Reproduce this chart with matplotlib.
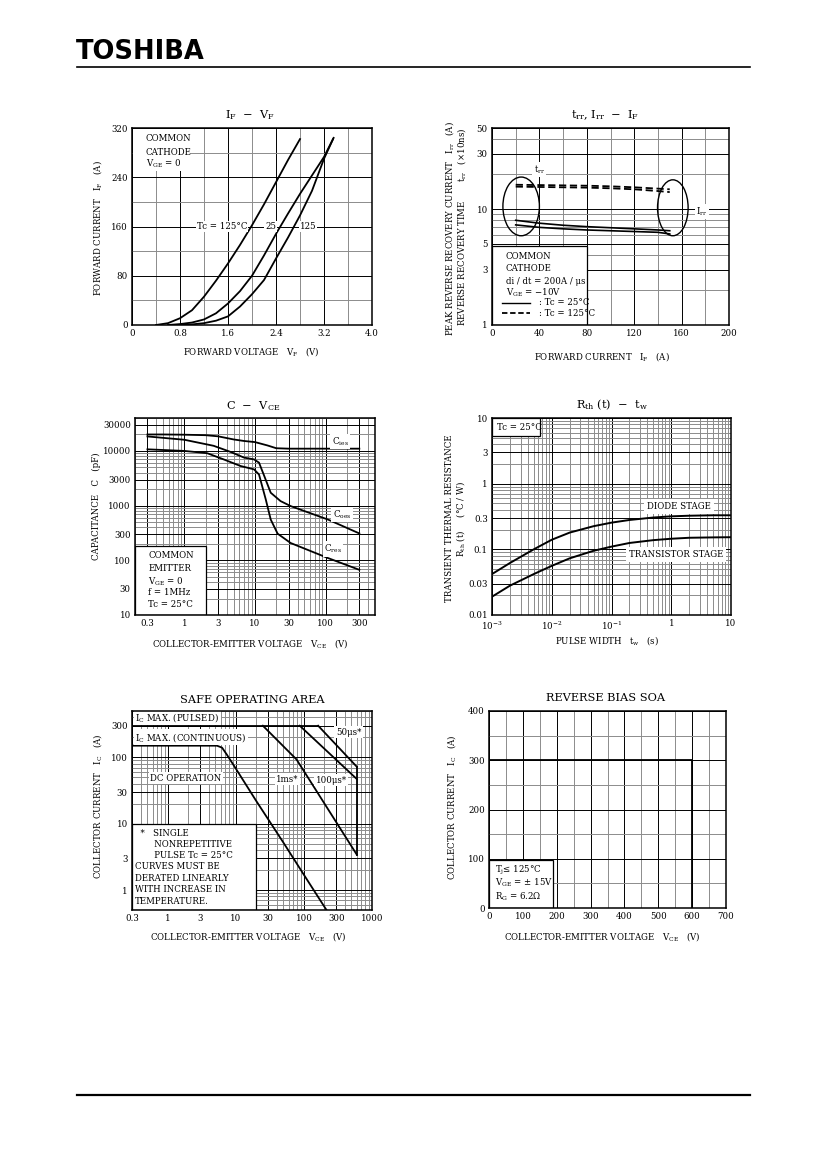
import matplotlib.pyplot as plt
from matplotlib.lines import Line2D
from matplotlib.patches import Ellipse, Rectangle
from matplotlib.ticker import MultipleLocator, NullFormatter

plt.rcParams["font.family"] = ["DejaVu Serif"]
plt.rcParams["mathtext.fontset"] = "dejavuserif"
plt.rcParams["mathtext.default"] = "regular"

# ---- IF - VF
vf_125a = [0.4, 0.6, 0.8, 1.0, 1.2, 1.4, 1.6, 1.8, 2.0, 2.2, 2.4, 2.6, 2.8]
if_125a = [0, 3, 11, 24, 46, 72, 100, 130, 162, 196, 232, 268, 302]
vf_25 = [0.6, 0.8, 1.0, 1.2, 1.4, 1.6, 1.8, 2.0, 2.2, 2.4, 2.6, 2.8, 3.0, 3.2, 3.35]
if_25 = [0, 1.5, 4, 9, 19, 35, 55, 80, 113, 148, 181, 213, 243, 273, 302]
vf_125b = [0.8, 1.0, 1.2, 1.4, 1.6, 1.8, 2.0, 2.2, 2.4, 2.6, 2.8, 3.0, 3.2, 3.36]
if_125b = [0, 1, 3, 7, 14, 30, 50, 73, 108, 142, 178, 218, 270, 304]

# ---- trr, Irr - IF
if_rr = [20, 40, 60, 80, 100, 120, 140, 150]
trr_a = [16.2, 16.1, 16.0, 15.9, 15.7, 15.4, 15.0, 14.8]
trr_b = [15.6, 15.5, 15.4, 15.3, 15.1, 14.8, 14.3, 14.0]
irr_a = [8.0, 7.55, 7.25, 7.05, 6.9, 6.75, 6.6, 6.5]
irr_b = [7.3, 6.95, 6.75, 6.6, 6.5, 6.4, 6.3, 6.1]

# ---- C - VCE
v_ies = [0.3, 0.5, 1, 2, 3, 5, 7, 10, 15, 20, 30, 50, 100, 300]
c_ies = [20000, 20000, 19800, 19400, 18500, 16200, 15200, 14500, 12600, 11200, 11000, 11000, 11000, 11000]
v_oes = [0.3, 1, 2.6, 4.5, 7, 9.7, 11.4, 13.5, 16.7, 23, 32, 108, 300]
c_oes = [18400, 16000, 12400, 9600, 7550, 7000, 6100, 3500, 1720, 1210, 980, 556, 310]
v_res = [0.3, 1, 2.1, 3.6, 6.25, 9.7, 11.4, 14.2, 16.7, 20.9, 32, 108, 300]
c_res = [10700, 10000, 9100, 7000, 5300, 4600, 3700, 1300, 556, 307, 207, 110, 67]

# ---- Rth(t) - tw
tw = [1e-3, 2e-3, 5e-3, 1e-2, 2e-2, 5e-2, 0.1, 0.2, 0.5, 1, 2, 5, 10]
rth_diode = [0.042, 0.062, 0.10, 0.14, 0.18, 0.225, 0.255, 0.28, 0.305, 0.318, 0.325, 0.33, 0.33]
rth_tr = [0.019, 0.028, 0.042, 0.056, 0.073, 0.095, 0.11, 0.125, 0.138, 0.145, 0.15, 0.152, 0.153]

# ---- SOA
soa_pulse_v = [0.3, 162]
soa_pulse_i = [300, 300]
soa_dc_v = [0.3, 5.3, 6.3, 7.4, 10, 20, 50, 100, 200, 215]
soa_dc_i = [150, 150, 140, 110, 68, 22, 5.2, 1.7, 0.56, 0.5]
soa_1ms_v = [25, 78, 600]
soa_1ms_i = [300, 93, 3.4]
soa_100us_v = [87, 600]
soa_100us_i = [300, 47]
soa_50us_v = [162, 600]
soa_50us_i = [300, 72]
soa_edge_v = [600, 600]
soa_edge_i = [3.4, 72]

# ---- reverse bias SOA
rb_v = [0, 600, 600]
rb_i = [300, 300, 0]

W, H = 826, 1169
FS = 6.2


def box(fig, l, t, r, b):
    return fig.add_axes([l / W, 1 - b / H, (r - l) / W, (b - t) / H])


def style(ax):
    ax.tick_params(which="both", length=0, labelsize=FS, pad=3)
    for s in ax.spines.values():
        s.set_linewidth(1.1)
        s.set_zorder(6)
    ax.grid(which="major", color="black", lw=0.7)
    ax.grid(which="minor", color="0.55", lw=0.7)
    ax.set_axisbelow(True)


def labels(ax, title, tx, ty, xlabel, xx, xy, ylabel, yx, yy):
    ax.text(tx, ty, title, transform=ax.transAxes, ha="center", va="center", fontsize=8.2)
    ax.text(xx, xy, xlabel, transform=ax.transAxes, ha="center", va="center", fontsize=FS)
    if ylabel:
        ax.text(yx, yy, ylabel, transform=ax.transAxes, ha="center", va="center",
                rotation=90, fontsize=FS)


def panel(ax, x0, y0, x1, y1, x, ys, lines, edge="black"):
    ax.add_patch(Rectangle((x0, y0), x1 - x0, y1 - y0, transform=ax.transAxes,
                           facecolor="white", edgecolor=edge, lw=0.9, zorder=3))
    for y, t in zip(ys, lines):
        ax.text(x, y, t, transform=ax.transAxes, fontsize=FS, va="center", ha="left",
                zorder=4)


def tag(ax, x, y, t, ha="left", pad=1.0):
    ax.text(x, y, t, transform=ax.transAxes, fontsize=FS, ha=ha, va="center", zorder=4,
            bbox=dict(facecolor="white", edgecolor="none", pad=pad))


fig = plt.figure(figsize=(W / 100, H / 100), dpi=100)

# header / footer
fig.text(76 / W, 1 - 52 / H, "TOSHIBA", family="DejaVu Sans", fontweight="black",
         fontsize=18.5, va="center", ha="left")
fig.add_artist(Line2D([77 / W, 750 / W], [1 - 67 / H, 1 - 67 / H], color="black", lw=1.2))
fig.add_artist(Line2D([77 / W, 750 / W], [1 - 1095 / H, 1 - 1095 / H], color="black", lw=1.6))

# IF - VF
ax = box(fig, 132, 128, 372, 325)
for x, y in [(vf_125a, if_125a), (vf_25, if_25), (vf_125b, if_125b)]:
    ax.plot(x, y, color="black", lw=1.3)
ax.set_xlim(0, 4.0)
ax.set_ylim(0, 320)
ax.set_xticks([0, 0.8, 1.6, 2.4, 3.2, 4.0], ["0", "0.8", "1.6", "2.4", "3.2", "4.0"])
ax.set_yticks([0, 80, 160, 240, 320])
ax.xaxis.set_minor_locator(MultipleLocator(0.4))
ax.yaxis.set_minor_locator(MultipleLocator(40))
style(ax)
ax.text(1.5, 160, "Tc = 125°C", fontsize=FS, ha="center", va="center",
        bbox=dict(facecolor="white", edgecolor="none", pad=0.5))
ax.text(2.31, 160, "25", fontsize=FS, ha="center", va="center",
        bbox=dict(facecolor="white", edgecolor="none", pad=0.5))
ax.text(2.94, 160, "125", fontsize=FS, ha="center", va="center",
        bbox=dict(facecolor="white", edgecolor="none", pad=0.5))
panel(ax, 0.005, 0.78, 0.242, 0.995, 0.058, [0.945, 0.878, 0.818],
      ["COMMON", "CATHODE", "$V_{GE}$ = 0"], edge="none")
labels(ax, "$I_F$  −  $V_F$", 0.49, 1.066, "FORWARD VOLTAGE   $V_F$   (V)", 0.495, -0.136,
       "FORWARD CURRENT   $I_F$   (A)", -0.145, 0.49)

# trr, Irr - IF
ax = box(fig, 492, 128, 729, 325)
ax.plot(if_rr, trr_a, color="black", lw=1.3, ls=(0, (4, 2)))
ax.plot(if_rr, trr_b, color="black", lw=1.3, ls=(0, (4, 2)))
ax.plot(if_rr, irr_a, color="black", lw=1.2)
ax.plot(if_rr, irr_b, color="black", lw=1.2)
ax.set_yscale("log")
ax.set_xlim(0, 200)
ax.set_ylim(1, 50)
ax.set_xticks([0, 40, 80, 120, 160, 200])
ax.xaxis.set_minor_locator(MultipleLocator(20))
ax.set_yticks([1, 3, 5, 10, 30, 50], ["1", "3", "5", "10", "30", "50"])
ax.yaxis.set_minor_formatter(NullFormatter())
style(ax)
ax.add_patch(Ellipse((0.123, 0.602), 0.154, 0.298, transform=ax.transAxes,
                     fill=False, lw=1.0, color="black"))
ax.add_patch(Ellipse((0.763, 0.595), 0.129, 0.284, transform=ax.transAxes,
                     fill=False, lw=1.0, color="black"))
tag(ax, 0.2, 0.79, "$t_{rr}$", ha="center")
tag(ax, 0.885, 0.576, "$I_{rr}$", ha="center")
panel(ax, 0, 0, 0.4, 0.403, 0.058, [0.347, 0.288, 0.222, 0.164, 0.114, 0.059],
      ["COMMON", "CATHODE", "di / dt = 200A / μs", "$V_{GE}$ = −10V",
       "            : Tc = 25°C", "            : Tc = 125°C"])
ax.plot([0.044, 0.159], [0.114, 0.114], transform=ax.transAxes, color="black", lw=1.0,
        zorder=5)
ax.plot([0.044, 0.159], [0.059, 0.059], transform=ax.transAxes, color="black", lw=1.3,
        ls=(0, (3, 1.5)), zorder=5)
labels(ax, "$t_{rr}$, $I_{rr}$  −  $I_F$", 0.476, 1.066, "FORWARD CURRENT   $I_F$   (A)",
       0.465, -0.16, None, 0, 0)
ax.text(-0.18, 0.49, "PEAK REVERSE RECOVERY CURRENT   $I_{rr}$   (A)",
        transform=ax.transAxes, rotation=90, ha="center", va="center", fontsize=FS)
ax.text(-0.13, 0.5, "REVERSE RECOVERY TIME       $t_{rr}$   (×10ns)",
        transform=ax.transAxes, rotation=90, ha="center", va="center", fontsize=FS)

# C - VCE
ax = box(fig, 135, 418, 375, 615)
for x, y in [(v_ies, c_ies), (v_oes, c_oes), (v_res, c_res)]:
    ax.plot(x, y, color="black", lw=1.3)
ax.set_xscale("log")
ax.set_yscale("log")
ax.set_xlim(0.2, 500)
ax.set_ylim(10, 40000)
ax.set_xticks([0.3, 1, 3, 10, 30, 100, 300], ["0.3", "1", "3", "10", "30", "100", "300"])
ax.set_yticks([10, 30, 100, 300, 1000, 3000, 10000, 30000],
              ["10", "30", "100", "300", "1000", "3000", "10000", "30000"])
ax.xaxis.set_minor_formatter(NullFormatter())
ax.yaxis.set_minor_formatter(NullFormatter())
style(ax)
tag(ax, 0.855, 0.88, "$C_{ies}$", ha="center")
tag(ax, 0.862, 0.51, "$C_{oes}$", ha="center")
tag(ax, 0.825, 0.335, "$C_{res}$", ha="center")
panel(ax, 0, 0, 0.296, 0.351, 0.056, [0.302, 0.234, 0.169, 0.115, 0.054],
      ["COMMON", "EMITTER", "$V_{GE}$ = 0", "f = 1MHz", "Tc = 25°C"])
labels(ax, "C  −  $V_{CE}$", 0.493, 1.06, "COLLECTOR-EMITTER VOLTAGE   $V_{CE}$   (V)",
       0.479, -0.145, "CAPACITANCE   C   (pF)", -0.16, 0.55)

# Rth(t) - tw
ax = box(fig, 492, 418, 731, 615)
ax.plot(tw, rth_diode, color="black", lw=1.4)
ax.plot(tw, rth_tr, color="black", lw=1.4)
ax.set_xscale("log")
ax.set_yscale("log")
ax.set_xlim(1e-3, 10)
ax.set_ylim(0.01, 10)
ax.set_xticks([1e-3, 1e-2, 1e-1, 1, 10], ["$10^{-3}$", "$10^{-2}$", "$10^{-1}$", "1", "10"])
ax.set_yticks([0.01, 0.03, 0.1, 0.3, 1, 3, 10],
              ["0.01", "0.03", "0.1", "0.3", "1", "3", "10"])
ax.xaxis.set_minor_formatter(NullFormatter())
ax.yaxis.set_minor_formatter(NullFormatter())
style(ax)
tag(ax, 0.783, 0.55, "DIODE STAGE", ha="center", pad=2)
tag(ax, 0.77, 0.307, "TRANSISTOR STAGE", ha="center", pad=2)
panel(ax, 0, 0.907, 0.2, 1.0, 0.022, [0.954], ["Tc = 25°C"])
labels(ax, "$R_{th}$ (t)  −  $t_w$", 0.5, 1.066, "PULSE WIDTH   $t_w$   (s)", 0.482, -0.127,
       None, 0, 0)
ax.text(-0.178, 0.49, "TRANSIENT THERMAL RESISTANCE", transform=ax.transAxes,
        rotation=90, ha="center", va="center", fontsize=FS)
ax.text(-0.13, 0.49, "$R_{th}$ (t)     (°C / W)", transform=ax.transAxes,
        rotation=90, ha="center", va="center", fontsize=FS)

# SOA
ax = box(fig, 132, 711, 372, 910)
for x, y in [(soa_pulse_v, soa_pulse_i), (soa_dc_v, soa_dc_i), (soa_1ms_v, soa_1ms_i),
             (soa_100us_v, soa_100us_i), (soa_50us_v, soa_50us_i), (soa_edge_v, soa_edge_i)]:
    ax.plot(x, y, color="black", lw=1.3)
ax.set_xscale("log")
ax.set_yscale("log")
ax.set_xlim(0.3, 1000)
ax.set_ylim(0.5, 500)
ax.set_xticks([0.3, 1, 3, 10, 30, 100, 300, 1000],
              ["0.3", "1", "3", "10", "30", "100", "300", "1000"])
ax.set_yticks([1, 3, 10, 30, 100, 300], ["1", "3", "10", "30", "100", "300"])
ax.xaxis.set_minor_formatter(NullFormatter())
ax.yaxis.set_minor_formatter(NullFormatter())
style(ax)
tag(ax, 0.014, 0.968, "$I_C$ MAX. (PULSED)")
tag(ax, 0.014, 0.868, "$I_C$ MAX. (CONTINUOUS)")
tag(ax, 0.076, 0.662, "DC OPERATION")
tag(ax, 0.6, 0.658, "1ms*")
tag(ax, 0.766, 0.653, "100μs*")
tag(ax, 0.849, 0.893, "50μs*")
panel(ax, 0, 0, 0.517, 0.43, 0.012, [0.382, 0.327, 0.274, 0.219, 0.159, 0.102, 0.045],
      ["  *   SINGLE", "       NONREPETITIVE", "       PULSE Tc = 25°C", "CURVES MUST BE",
       "DERATED LINEARLY", "WITH INCREASE IN", "TEMPERATURE."])
labels(ax, "SAFE OPERATING AREA", 0.501, 1.055,
       "COLLECTOR-EMITTER VOLTAGE   $V_{CE}$   (V)", 0.485, -0.131,
       "COLLECTOR CURRENT   $I_C$   (A)", -0.145, 0.524)

# reverse bias SOA
ax = box(fig, 489, 711, 726, 908)
ax.plot(rb_v, rb_i, color="black", lw=1.3)
ax.set_xlim(0, 700)
ax.set_ylim(0, 400)
ax.set_xticks(range(0, 701, 100))
ax.set_yticks(range(0, 401, 100))
ax.xaxis.set_minor_locator(MultipleLocator(50))
ax.yaxis.set_minor_locator(MultipleLocator(50))
style(ax)
panel(ax, 0, 0, 0.272, 0.245, 0.025, [0.189, 0.127, 0.059],
      ["$T_j$≤ 125°C", "$V_{GE}$ = ± 15V", "$R_G$ = 6.2Ω"])
labels(ax, "REVERSE BIAS SOA", 0.493, 1.064,
       "COLLECTOR-EMITTER VOLTAGE   $V_{CE}$   (V)", 0.479, -0.144,
       "COLLECTOR CURRENT   $I_C$   (A)", -0.158, 0.51)

fig.savefig("out.png", dpi=100)
